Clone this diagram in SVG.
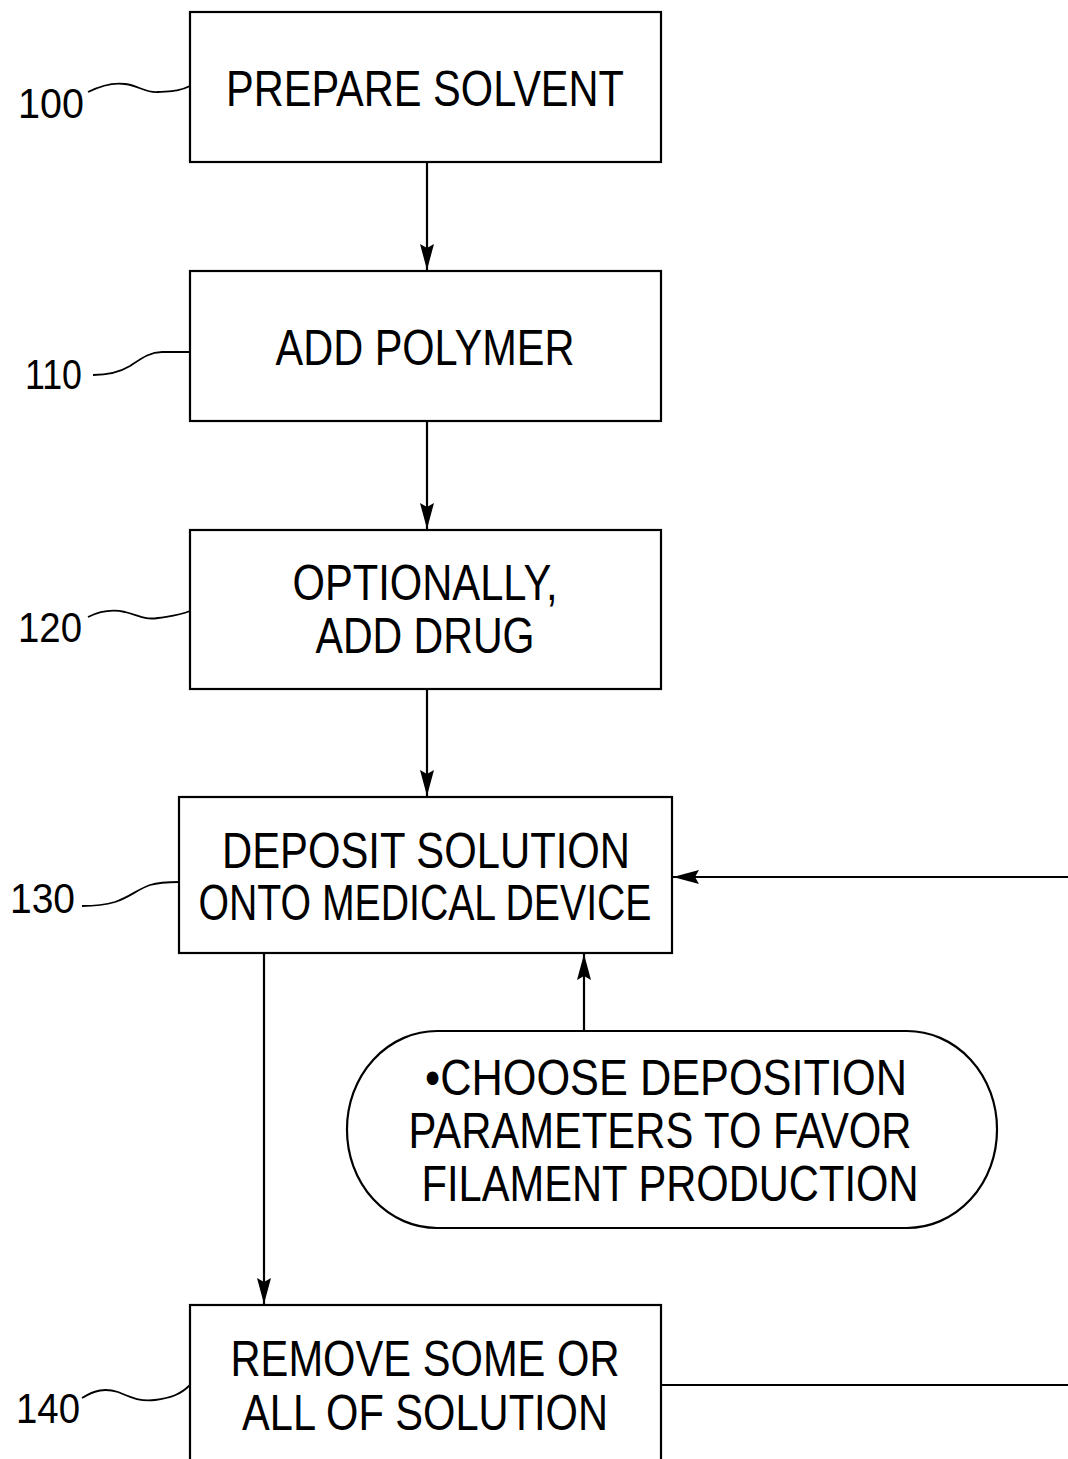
<svg xmlns="http://www.w3.org/2000/svg" width="1068" height="1459" viewBox="0 0 1068 1459">
<style>
.box{fill:#fff;stroke:#000;stroke-width:2.2}
.t{font-family:"Liberation Sans",Arial,sans-serif;font-size:50px;fill:#000;text-anchor:middle}
.lbl{font-family:"Liberation Sans",Arial,sans-serif;font-size:42px;fill:#000}
.ln{fill:none;stroke:#000;stroke-width:2.2}
.sq{fill:none;stroke:#000;stroke-width:1.8}
</style>
<defs>
<marker id="ah" viewBox="0 0 26 16" refX="26" refY="8" markerWidth="26" markerHeight="16" markerUnits="userSpaceOnUse" orient="auto">
<path d="M0,1 L26,8 L0,15 L4,8 Z" fill="#000"/>
</marker>
</defs>
<g id="connectors">
<line class="ln" x1="427" y1="162" x2="427" y2="270" marker-end="url(#ah)"/>
<line class="ln" x1="427" y1="421" x2="427" y2="529" marker-end="url(#ah)"/>
<line class="ln" x1="427" y1="689" x2="427" y2="796" marker-end="url(#ah)"/>
<line class="ln" x1="264" y1="953" x2="264" y2="1304" marker-end="url(#ah)"/>
<line class="ln" x1="584" y1="1031" x2="584" y2="954" marker-end="url(#ah)"/>
<line class="ln" x1="1068" y1="877" x2="673" y2="877" marker-end="url(#ah)"/>
<line class="ln" x1="661" y1="1385" x2="1068" y2="1385"/>
</g>
<g id="n100">
<rect class="box" x="190" y="12" width="471" height="150"/>
<text class="t" x="425" y="106" textLength="398" lengthAdjust="spacingAndGlyphs">PREPARE SOLVENT</text>
<text class="lbl" x="18" y="118" textLength="66" lengthAdjust="spacingAndGlyphs">100</text>
<path class="sq" d="M88,92 C100,86 112,82 125,84 C140,86 145,93 158,92 C170,91 178,92 190,86"/>
</g>
<g id="n110">
<rect class="box" x="190" y="271" width="471" height="150"/>
<text class="t" x="425" y="365" textLength="299" lengthAdjust="spacingAndGlyphs">ADD POLYMER</text>
<text class="lbl" x="25" y="389" textLength="57" lengthAdjust="spacingAndGlyphs">110</text>
<path class="sq" d="M93,375 C110,375 120,372 130,366 C142,358 150,352 162,352 L190,352"/>
</g>
<g id="n120">
<rect class="box" x="190" y="530" width="471" height="159"/>
<text class="t" x="425" y="600" textLength="265" lengthAdjust="spacingAndGlyphs">OPTIONALLY,</text>
<text class="t" x="425" y="653" textLength="219" lengthAdjust="spacingAndGlyphs">ADD DRUG</text>
<text class="lbl" x="18" y="642" textLength="64" lengthAdjust="spacingAndGlyphs">120</text>
<path class="sq" d="M88,617 C100,611 112,609 125,612 C140,616 145,620 158,618 C170,616 178,616 190,611"/>
</g>
<g id="n130">
<rect class="box" x="179" y="797" width="493" height="156"/>
<text class="t" x="426" y="868" textLength="408" lengthAdjust="spacingAndGlyphs">DEPOSIT SOLUTION</text>
<text class="t" x="425" y="920" textLength="453" lengthAdjust="spacingAndGlyphs">ONTO MEDICAL DEVICE</text>
<text class="lbl" x="10" y="913" textLength="65" lengthAdjust="spacingAndGlyphs">130</text>
<path class="sq" d="M82,906 C95,906 105,905 115,902 C130,897 138,889 150,885 C160,882 168,882 179,882"/>
</g>
<g id="param">
<rect class="box" x="347" y="1031" width="650" height="197" rx="90" ry="98"/>
<text class="t" x="666" y="1095" textLength="482" lengthAdjust="spacingAndGlyphs">•CHOOSE DEPOSITION</text>
<text class="t" x="660" y="1148" textLength="503" lengthAdjust="spacingAndGlyphs">PARAMETERS TO FAVOR</text>
<text class="t" x="670" y="1201" textLength="497" lengthAdjust="spacingAndGlyphs">FILAMENT PRODUCTION</text>
</g>
<g id="n140">
<rect class="box" x="190" y="1305" width="471" height="170"/>
<text class="t" x="425" y="1376" textLength="389" lengthAdjust="spacingAndGlyphs">REMOVE SOME OR</text>
<text class="t" x="425" y="1430" textLength="366" lengthAdjust="spacingAndGlyphs">ALL OF SOLUTION</text>
<text class="lbl" x="16" y="1423" textLength="64" lengthAdjust="spacingAndGlyphs">140</text>
<path class="sq" d="M82,1398 C95,1390 105,1388 118,1392 C130,1397 140,1402 155,1400 C170,1398 180,1395 190,1385"/>
</g>
</svg>
